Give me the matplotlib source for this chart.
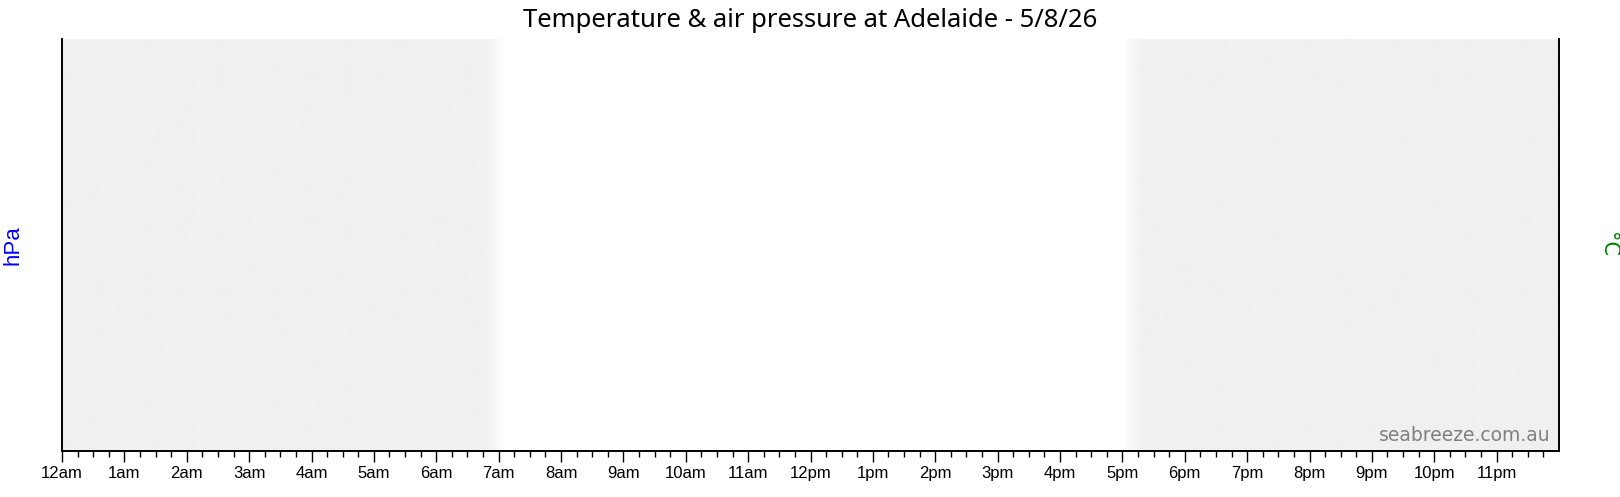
import numpy as np
import matplotlib
matplotlib.use('Agg')
import matplotlib.pyplot as plt
from matplotlib.ticker import FixedLocator

# datos del grafico (no hay mediciones en la imagen, solo la noche sombreada)
titulo = 'Temperature & air pressure at Adelaide - 5/8/26'
horas = list(range(24))
etiquetas = ['12am'] + [f'{h}am' for h in range(1, 12)] + ['12pm'] + [f'{h}pm' for h in range(1, 12)]
amanecer = 6.95   # hora aprox. donde termina la sombra
atardecer = 17.17  # hora aprox. donde empieza la sombra
presion = []
temperatura = []

fig = plt.figure(figsize=(16.2, 4.97), dpi=100)
ax = fig.add_axes([62 / 1620, 1 - 450.5 / 497, (1559 - 62) / 1620, (450.5 - 39) / 497])
ax2 = ax.twinx()

# sombra de la noche con borde difuso
x = np.linspace(0, 24, 2000)
rampa = 0.15
oscuro = np.clip((amanecer + rampa - x) / (2 * rampa), 0, 1) + np.clip((x - atardecer + rampa) / (2 * rampa), 0, 1)
oscuro = np.clip(oscuro, 0, 1)
gris = 1 - oscuro * (1 - 240 / 255)
img = np.repeat(gris[np.newaxis, :, np.newaxis], 3, axis=2)
ax.imshow(img, extent=[0, 24, 0, 1], aspect='auto', zorder=0, interpolation='bilinear')

ax.set_xlim(0, 24)
ax.set_ylim(0, 1)
ax2.set_ylim(0, 1)

ax.xaxis.set_major_locator(FixedLocator(horas))
ax.xaxis.set_minor_locator(FixedLocator([h + q / 4 for h in horas for q in range(1, 4)]))
ax.set_xticklabels(etiquetas, fontsize=12, family='Liberation Sans')
ax.tick_params(axis='x', which='major', length=8, width=1, pad=3, color='black')
ax.tick_params(axis='x', which='minor', length=4, width=1)
ax.set_yticks([])
ax2.set_yticks([])

for a in (ax, ax2):
    a.spines['top'].set_visible(False)
    for s in ('left', 'right', 'bottom'):
        a.spines[s].set_linewidth(1.2)

ax.set_ylabel('hPa', color='blue', fontsize=16, family='Liberation Sans', va='center', ha='center')
ax.yaxis.set_label_coords(-0.0324, 0.5)
ax2.set_ylabel('°C', color='green', fontsize=15, family='DejaVu Sans', rotation=-90, va='center', ha='center')
ax2.yaxis.set_label_coords(1.0327, 0.5)

ax.text(0.9945, 0.022, 'seabreeze.com.au', transform=ax.transAxes, ha='right', va='baseline',
        fontsize=13.5, color='#808080', family='DejaVu Sans')

fig.text((62 + 1559) / 2 / 1620, 1 - 27 / 497, titulo, ha='center', va='baseline',
         fontsize=18.5, family='Noto Sans', color='black')

fig.savefig('out.png', dpi=100, facecolor='white')
